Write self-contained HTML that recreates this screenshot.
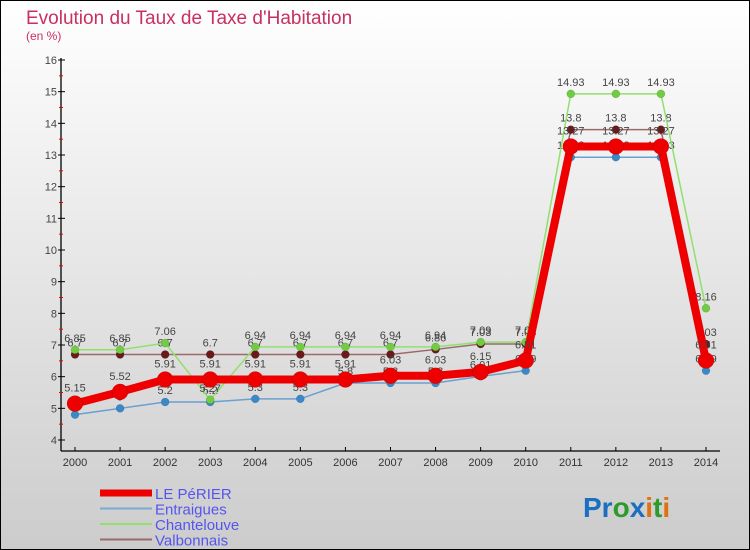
<!DOCTYPE html>
<html><head><meta charset="utf-8"><style>
body{margin:0;width:750px;height:550px;overflow:hidden;font-family:"Liberation Sans",sans-serif}
svg{display:block}
</style></head><body>
<svg id="c" width="750" height="550" xmlns="http://www.w3.org/2000/svg">
<defs><linearGradient id="bg" x1="0" y1="0" x2="0" y2="1"><stop offset="0" stop-color="#ffffff"/><stop offset="1" stop-color="#cccccc"/></linearGradient></defs>
<rect x="0.5" y="0.5" width="749" height="549" fill="url(#bg)" stroke="#000" stroke-width="1"/>
<text x="26" y="24" font-size="19" fill="#c8305f">Evolution du Taux de Taxe d'Habitation</text>
<text x="26" y="40" font-size="12" fill="#c8305f">(en %)</text>
<g id="axes"></g><g id="series"></g><g id="legend"></g>
<text x="583" y="517" font-size="28" font-weight="bold"><tspan fill="#1a6fc0">Pr</tspan><tspan fill="#2e9a2e">o</tspan><tspan fill="#1a6fc0">x</tspan><tspan fill="#e07010">i</tspan><tspan fill="#2e9a2e">t</tspan><tspan fill="#e07010">i</tspan></text>
</svg>
<script>
const years=[2000,2001,2002,2003,2004,2005,2006,2007,2008,2009,2010,2011,2012,2013,2014];
const yTicks=[4,5,6,7,8,9,10,11,12,13,14,15,16];
const perier=[5.15,5.52,5.91,5.91,5.91,5.91,5.91,6.03,6.03,6.15,6.51,13.27,13.27,13.27,6.51];
const entraigues=[4.8,5,5.2,5.2,5.3,5.3,5.8,5.8,5.8,6.01,6.19,12.93,12.93,12.93,6.19];
const chantelouve=[6.85,6.85,7.06,5.27,6.94,6.94,6.94,6.94,6.94,7.09,7.09,14.93,14.93,14.93,8.16];
const valbonnais=[6.7,6.7,6.7,6.7,6.7,6.7,6.7,6.7,6.86,7.03,7.03,13.8,13.8,13.8,7.03];
const NS="http://www.w3.org/2000/svg";
function X(i){return 75+i*(706-75)/(years.length-1);}
function Y(v){return 440-(v-4)*(380/12);}
function mk(tag,attrs,parent){const e=document.createElementNS(NS,tag);for(const k in attrs)e.setAttribute(k,attrs[k]);parent.appendChild(e);return e;}
const ax=document.getElementById('axes');
let l=mk('line',{x1:61,y1:58,x2:61,y2:451,stroke:'#000','stroke-width':1.3},ax);


l=mk('line',{x1:61,y1:451,x2:720,y2:451,stroke:'#000','stroke-width':1.3},ax);


yTicks.forEach(v=>{
 mk('line',{x1:58,y1:Y(v),x2:65,y2:Y(v),stroke:'#000'},ax);
 if(v<16)mk('line',{x1:59,y1:Y(v+0.5),x2:63,y2:Y(v+0.5),stroke:'#e00'},ax);
 const t=mk('text',{x:57,y:Y(v)+4,'font-size':11,'text-anchor':'end',fill:'#444'},ax);
 t.textContent=v;
 
 
});
years.forEach((y,i)=>{
 mk('line',{x1:X(i),y1:447,x2:X(i),y2:451,stroke:'#000'},ax);
 const t=mk('text',{x:X(i),y:466,'font-size':11,'text-anchor':'middle',fill:'#333'},ax);
 t.textContent=y;
 
 
});
const sg=document.getElementById('series');
function draw(vals,name,color,dot,w,r,lblOff){
 const g=mk('g',{},sg);
 
 
 const p=mk('polyline',{points:vals.map((v,i)=>X(i)+','+Y(v)).join(' '),fill:'none',stroke:color,'stroke-width':w,'stroke-linejoin':'round'},g);
 
 
 vals.forEach((v,i)=>{
  const c=mk('circle',{cx:X(i),cy:Y(v),r:r,fill:dot,stroke:'rgba(0,0,0,0.2)','stroke-width':0.5},g);
  
  
  const t=mk('text',{x:X(i),y:Y(v)-lblOff,'font-size':11,'text-anchor':'middle',fill:'#444'},g);
  t.textContent=String(v);
  
  
 });
}
draw(valbonnais,'valbonnais','#9a6a6a','#6a1a1a',1.5,4,8);
draw(entraigues,'entraigues','#6aa0d0','#3a88c8',1.5,4,8);
draw(chantelouve,'chantelouve','#90e070','#70cc40',1.5,4,8);
draw(perier,'le-perier','#ee0000','#ee0000',8,8,12);
const lg=document.getElementById('legend');
const items=[['LE PéRIER','#ee0000',7],['Entraigues','#7aaad0',2],['Chantelouve','#90e070',2],['Valbonnais','#9a6a6a',2]];
items.forEach((it,k)=>{
 const y=493+k*15.5;
 const g=mk('g',{},lg);
 
 
 mk('line',{x1:100,y1:y,x2:152,y2:y,stroke:it[1],'stroke-width':it[2]},g);
 const t=mk('text',{x:155,y:y+6,'font-size':15,fill:'#5555ee'},g);
 t.textContent=it[0];
});
</script>
</body></html>
